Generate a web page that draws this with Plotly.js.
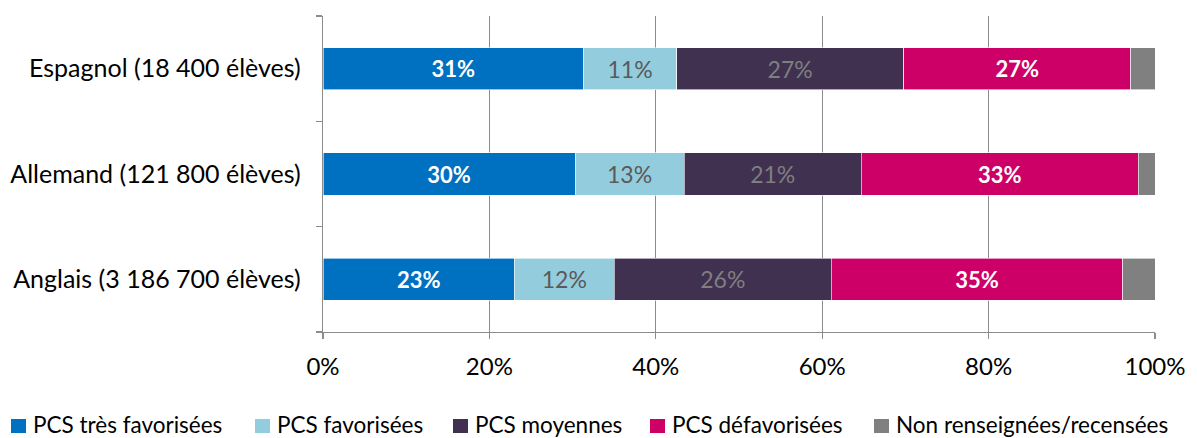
<!DOCTYPE html>
<html><head><meta charset="utf-8">
<script src="https://cdn.plot.ly/plotly-3.0.1.min.js"></script>
<style>body{margin:0;background:#fff}#c{width:1197px;height:438px}</style>
</head><body><div id="c"></div>
<script>
const categories = ["Anglais (3 186 700 élèves)", "Allemand (121 800 élèves)", "Espagnol (18 400 élèves)"];
const seriesNames = ["PCS très favorisées", "PCS favorisées", "PCS moyennes", "PCS défavorisées", "Non renseignées/recensées"];
const tresFavorisees = [23.0, 30.3, 31.3];
const favorisees = [12.0, 13.1, 11.2];
const moyennes = [26.1, 21.3, 27.3];
const defavorisees = [35.0, 33.3, 27.3];
const nonRenseignees = [3.9, 2.0, 2.9];
const xTickVals = [0, 20, 40, 60, 80, 100];
const xTickText = ["0%", "20%", "40%", "60%", "80%", "100%"];

const FONT = "Lato, 'Open Sans', sans-serif";
const colors = ["#0070C0", "#93CDDD", "#403151", "#CC0066", "#808080"];
const labelFonts = [
  {color: "#ffffff", size: 22, family: FONT, weight: "bold"},
  {color: "#5a5a5a", size: 23, family: FONT},
  {color: "#7f7f7f", size: 23, family: FONT},
  {color: "#ffffff", size: 22, family: FONT, weight: "bold"},
  {color: "#ffffff", size: 22, family: FONT}
];
const allSeries = [tresFavorisees, favorisees, moyennes, defavorisees, nonRenseignees];

const traces = allSeries.map((vals, i) => ({
  type: "bar",
  orientation: "h",
  name: seriesNames[i],
  y: categories,
  x: vals,
  marker: {color: colors[i], line: {color: "#ffffff", width: 0.6}},
  texttemplate: i < 4 ? "%{x:.0f}%" : "",
  textposition: i < 4 ? "inside" : "none",
  insidetextanchor: "middle",
  constraintext: "none",
  textfont: labelFonts[i],
  hoverinfo: "skip",
  showlegend: false
}));

// Plot area geometry (pixels) used to place the custom legend row below the chart
const W = 1197, H = 438, mL = 323, mR = 42, mT = 16, mB = 106;
const pw = W - mL - mR, ph = H - mT - mB;
const px2x = p => (p - mL) / pw;
const py2y = p => (H - mB - p) / ph;
const legendSymbolX = [11, 255, 453, 650, 874];
const legendTextX = [32, 276, 474, 671, 895];

const shapes = seriesNames.map((n, i) => ({
  type: "rect", xref: "paper", yref: "paper",
  x0: px2x(legendSymbolX[i]), x1: px2x(legendSymbolX[i] + 15),
  y0: py2y(433), y1: py2y(419),
  fillcolor: colors[i], line: {width: 0}
}));
const annotations = seriesNames.map((n, i) => ({
  text: n, xref: "paper", yref: "paper",
  x: px2x(legendTextX[i]), y: py2y(424),
  xanchor: "left", yanchor: "middle", showarrow: false,
  borderpad: 0,
  font: {family: FONT, size: 22.5, color: "#000000"}
}));

const layout = {
  width: W, height: H,
  barmode: "stack",
  bargap: 0.6,
  margin: {l: mL, r: mR, t: mT, b: mB},
  paper_bgcolor: "#ffffff",
  plot_bgcolor: "#ffffff",
  font: {family: FONT, size: 20, color: "#000000"},
  showlegend: false,
  shapes: shapes,
  annotations: annotations,
  xaxis: {
    range: [0, 100],
    tickvals: xTickVals,
    ticktext: xTickText,
    showgrid: true,
    gridcolor: "#8c8c8c",
    gridwidth: 1.3,
    showline: true,
    linecolor: "#8c8c8c",
    linewidth: 1.3,
    ticks: "outside",
    ticklen: 6,
    tickcolor: "#8c8c8c",
    tickwidth: 1.3,
    tickfont: {size: 24},
    ticklabelstandoff: 7,
    zeroline: false,
    fixedrange: true
  },
  yaxis: {
    type: "category",
    categoryorder: "array",
    categoryarray: categories,
    showline: true,
    linecolor: "#8c8c8c",
    linewidth: 1.3,
    ticks: "outside",
    tickson: "boundaries",
    ticklen: 6,
    tickcolor: "#8c8c8c",
    tickwidth: 1.3,
    showgrid: false,
    tickfont: {size: 25},
    ticklabelstandoff: 16,
    fixedrange: true
  }
};

Plotly.newPlot("c", traces, layout, {displayModeBar: false, staticPlot: true});
</script>
</body></html>
